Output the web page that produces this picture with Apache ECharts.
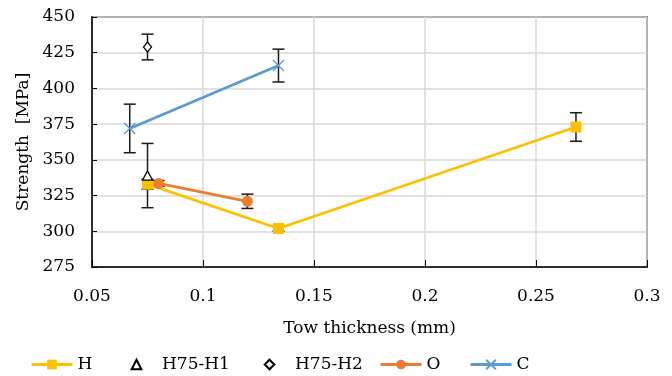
<!DOCTYPE html>
<html>
<head>
<meta charset="utf-8">
<script src="https://cdn.jsdelivr.net/npm/echarts@6/dist/echarts.min.js"></script>
<style>
  html, body { margin: 0; padding: 0; background: #fff; }
  #chart { width: 672px; height: 376px; }
</style>
</head>
<body>
<div id="chart"></div>
<script>
// Tow thickness (mm), strength (MPa) and error-bar half-widths per laminate type
const hX = [0.075, 0.134, 0.268];
const hY = [333, 302, 373];
const hErr = [3.5, 2, 10];

const h1X = [0.075];
const h1Y = [339];
const h1Err = [22.5];

const h2X = [0.075];
const h2Y = [429];
const h2Err = [9];

const oX = [0.08, 0.12];
const oY = [333.5, 321];
const oErr = [2, 5];

const cX = [0.067, 0.134];
const cY = [372, 416];
const cErr = [17, 11.5];

const seriesNames = ['H', 'H75-H1', 'H75-H2', 'O', 'C'];
const xTicks = [0.05, 0.1, 0.15, 0.2, 0.25, 0.3];
const yTicks = [275, 300, 325, 350, 375, 400, 425, 450];

const FONT = 'DejaVu Serif';
const FS = 17;

function pairs(xs, ys) { return xs.map((x, i) => [x, ys[i]]); }
function bars(xs, ys, es) { return xs.map((x, i) => [x, ys[i] - es[i], ys[i] + es[i]]); }

const errData = [].concat(
  bars(hX, hY, hErr), bars(h1X, h1Y, h1Err), bars(h2X, h2Y, h2Err),
  bars(oX, oY, oErr), bars(cX, cY, cErr)
);

const chart = echarts.init(document.getElementById('chart'), null, { renderer: 'canvas' });

// marker-only series are drawn as lines with a hidden stroke so the legend keeps the same icon box
const hiddenLine = { opacity: 0, width: 0 };

// one legend block per entry, spaced along the bottom row
const legendLefts = [25, 111, 244, 374, 464];
const legends = seriesNames.map((name, i) => ({
  data: [{ name: name, lineStyle: (i === 1 || i === 2) ? undefined : { width: 3 } }],
  left: legendLefts[i], top: 351,
  itemWidth: 41, itemHeight: 12,
  textStyle: { fontFamily: FONT, fontSize: FS, color: '#000' }
}));

chart.setOption({
  animation: false,
  textStyle: { fontFamily: FONT, color: '#000' },
  grid: { left: 92, right: 25, top: 17, bottom: 109, show: true, borderColor: '#000', borderWidth: 1.5 },
  legend: legends,
  xAxis: {
    type: 'value', min: xTicks[0], max: xTicks[xTicks.length - 1], interval: 0.05,
    name: 'Tow thickness (mm)', nameLocation: 'middle', nameGap: 53,
    nameTextStyle: { fontFamily: FONT, fontSize: FS, color: '#000' },
    axisLine: { lineStyle: { color: '#000', width: 1.5 } },
    axisTick: { show: true, inside: true, length: 7, lineStyle: { color: '#000', width: 1 } },
    axisLabel: { margin: 21, fontSize: FS, color: '#000', fontFamily: FONT,
      formatter: v => String(+v.toFixed(2)) },
    splitLine: { lineStyle: { color: '#d9d9d9', width: 1.5 } }
  },
  yAxis: {
    type: 'value', min: yTicks[0], max: yTicks[yTicks.length - 1], interval: 25,
    name: 'Strength  [MPa]', nameLocation: 'middle', nameGap: 60,
    nameTextStyle: { fontFamily: FONT, fontSize: FS, color: '#000' },
    axisLine: { show: true, lineStyle: { color: '#000', width: 1.5 } },
    axisTick: { show: true, inside: true, length: 5, lineStyle: { color: '#000', width: 1 } },
    axisLabel: { margin: 17, fontSize: FS, color: '#000', fontFamily: FONT },
    splitLine: { lineStyle: { color: '#d9d9d9', width: 1.5 } }
  },
  series: [
    {
      name: 'errbars', type: 'custom', z: 1, silent: true,
      data: errData,
      encode: { x: 0, y: [1, 2] },
      renderItem: function (params, api) {
        const lo = api.coord([api.value(0), api.value(1)]);
        const hi = api.coord([api.value(0), api.value(2)]);
        const w = 6;
        const st = { stroke: '#1a1a1a', lineWidth: 1.5, fill: null };
        return {
          type: 'group',
          children: [
            { type: 'line', shape: { x1: lo[0], y1: lo[1], x2: hi[0], y2: hi[1] }, style: st },
            { type: 'line', shape: { x1: lo[0] - w, y1: lo[1], x2: lo[0] + w, y2: lo[1] }, style: st },
            { type: 'line', shape: { x1: hi[0] - w, y1: hi[1], x2: hi[0] + w, y2: hi[1] }, style: st }
          ]
        };
      }
    },
    {
      name: seriesNames[0], type: 'line', z: 3, data: pairs(hX, hY),
      symbol: 'rect', symbolSize: 11, showAllSymbol: true,
      lineStyle: { color: '#FFC000', width: 2.75 },
      itemStyle: { color: '#FFC000' }
    },
    {
      name: seriesNames[1], type: 'line', z: 4, data: pairs(h1X, h1Y),
      symbol: 'triangle', symbolSize: [10, 9], showAllSymbol: true,
      lineStyle: hiddenLine,
      itemStyle: { color: '#fff', borderColor: '#000', borderWidth: 1.3 }
    },
    {
      name: seriesNames[2], type: 'line', z: 4, data: pairs(h2X, h2Y),
      symbol: 'diamond', symbolSize: [8, 10], showAllSymbol: true,
      lineStyle: hiddenLine,
      itemStyle: { color: '#fff', borderColor: '#000', borderWidth: 1.3 }
    },
    {
      name: seriesNames[3], type: 'line', z: 3, data: pairs(oX, oY),
      symbol: 'circle', symbolSize: 11, showAllSymbol: true,
      lineStyle: { color: '#ED7D31', width: 2.75 },
      itemStyle: { color: '#ED7D31' }
    },
    {
      name: seriesNames[4], type: 'line', z: 3, data: pairs(cX, cY),
      symbol: 'path://M0,0L10,10M10,0L0,10', symbolSize: 11, showAllSymbol: true,
      lineStyle: { color: '#5B9BD5', width: 2.75 },
      itemStyle: { color: '#5B9BD5', borderColor: '#5B9BD5', borderWidth: 1.3 }
    }
  ]
});
</script>
</body>
</html>
